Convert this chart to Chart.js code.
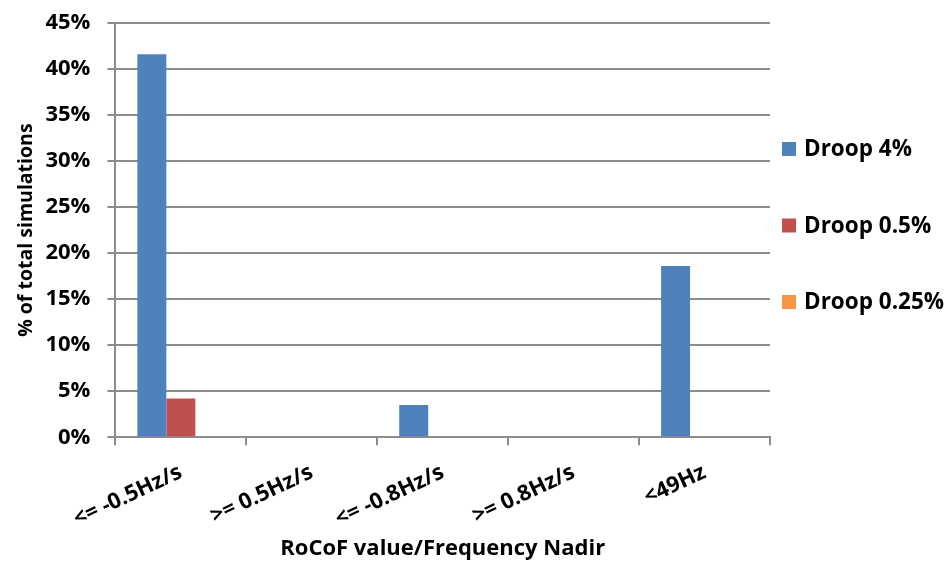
<!DOCTYPE html>
<html>
<head>
<meta charset="utf-8">
<script src="https://cdn.jsdelivr.net/npm/chart.js@4"></script>
<style>
  html, body { margin: 0; padding: 0; background: #fff; }
  #wrap { width: 949px; height: 562px; position: relative; }
</style>
</head>
<body>
<div id="wrap"><canvas id="chart"></canvas></div>
<script>
"use strict";

const CATEGORIES = ["<= -0.5Hz/s", ">= 0.5Hz/s", "<= -0.8Hz/s", ">= 0.8Hz/s", "<49Hz"];
const DROOP_4 = [41.6, 0, 3.5, 0, 18.6];
const DROOP_05 = [4.2, 0, 0, 0, 0];
const DROOP_025 = [0, 0, 0, 0, 0];
const Y_TICKS = [0, 5, 10, 15, 20, 25, 30, 35, 40, 45];

const FONT = "'Open Sans', 'DejaVu Sans', sans-serif";
const GRID = "#8c8c8c";

function series(label, data, color) {
  return {
    label, data, backgroundColor: color, borderWidth: 0,
    barPercentage: 1, categoryPercentage: 0.664,
  };
}

// legend drawn to the right of the plot, spaced like the original
const sideLegend = {
  id: "sideLegend",
  afterDraw(chart) {
    const ctx = chart.ctx;
    const x = chart.chartArea.right + 12;
    const y0 = 149, step = 76.5, box = 14;
    ctx.save();
    ctx.font = `bold 22.5px ${FONT}`;
    ctx.textBaseline = "middle";
    chart.data.datasets.forEach((ds, i) => {
      const y = y0 + i * step;
      ctx.fillStyle = ds.backgroundColor;
      ctx.fillRect(x, y - box / 2, box, box);
      ctx.fillStyle = "#000";
      ctx.fillText(ds.label, x + 22, y + 1);
    });
    ctx.restore();
  },
};

new Chart(document.getElementById("chart"), {
  type: "bar",
  data: {
    labels: CATEGORIES,
    datasets: [
      series("Droop 4%", DROOP_4, "#4f81bd"),
      series("Droop 0.5%", DROOP_05, "#c0504d"),
      series("Droop 0.25%", DROOP_025, "#f79646"),
    ],
  },
  plugins: [sideLegend],
  options: {
    responsive: true, maintainAspectRatio: false, animation: false,
    layout: { padding: { top: 23, right: 179, left: 15, bottom: 0 } },
    plugins: {
      tooltip: { enabled: false },
      legend: { display: false },
    },
    scales: {
      x: {
        grid: { drawOnChartArea: false, color: GRID, lineWidth: 2, tickLength: 8, offset: true },
        border: { color: GRID, width: 2 },
        ticks: {
          color: "#000", maxRotation: 25, minRotation: 25, padding: 14,
          font: { family: FONT, size: 22, weight: "bold" },
        },
        title: {
          display: true, text: "RoCoF value/Frequency Nadir", color: "#000", padding: { top: -11, bottom: 0 },
          font: { family: FONT, size: 22, weight: "bold" },
        },
      },
      y: {
        min: 0, max: 45,
        afterBuildTicks: (axis) => { axis.ticks = Y_TICKS.map(v => ({ value: v })); },
        afterFit: (axis) => { axis.paddingTop = 0; },
        grid: { color: GRID, lineWidth: 2, tickLength: 8 },
        border: { color: GRID, width: 2 },
        ticks: {
          color: "#000", padding: 17,
          font: { family: FONT, size: 22, weight: "bold" },
          callback: (v) => v + "%",
        },
        title: {
          display: true, text: "% of total simulations", color: "#000", padding: { top: 0, bottom: -10 },
          font: { family: FONT, size: 19.5, weight: "bold" },
        },
      },
    },
  },
});
</script>
</body>
</html>
